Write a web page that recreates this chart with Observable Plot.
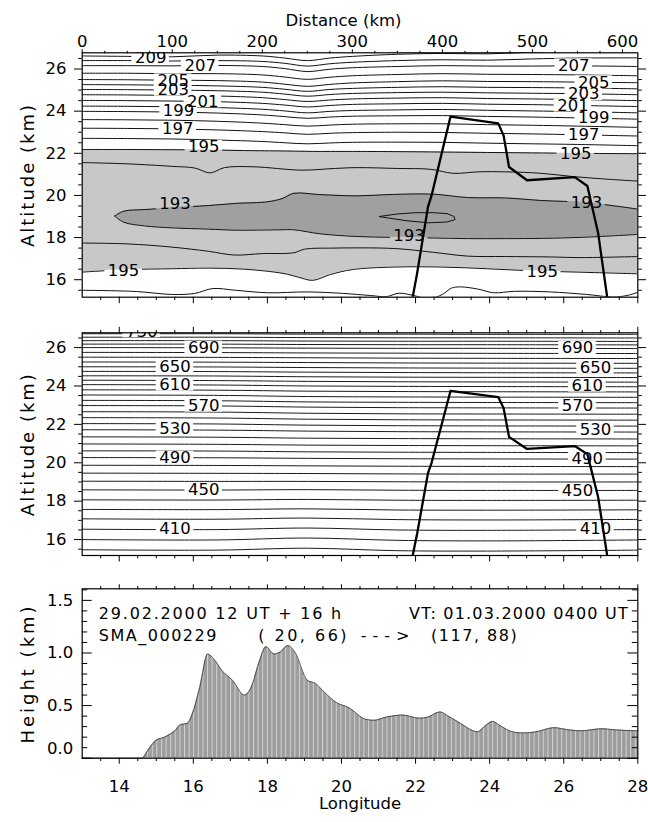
<!DOCTYPE html>
<html><head><meta charset="utf-8">
<script src="https://cdn.jsdelivr.net/npm/d3@7"></script>
<script src="https://cdn.jsdelivr.net/npm/@observablehq/plot@0.6"></script>
<style>
body{margin:0;background:#fff}
#c{width:648px;height:822px;position:relative;background:#fff}
#c svg{display:block;overflow:visible}
</style>
</head><body><div id="c"></div>
<script>
// ---------------- DATA ----------------
// top panel: temperature contours (K) vs distance (km) / altitude (km)
const upperD = [0,50,100,150,200,225,250,275,300,350,400,450,500,550,617];
const upperLevels = [209,208,207,206,205,204,203,202,201,200,199,198,197,196];
const upperAlt = [
  [26.62,26.60,26.58,26.66,26.62,26.52,26.40,26.52,26.60,26.70,26.74,26.72,26.80,26.85,26.90],
  [26.40,26.40,26.38,26.40,26.36,26.27,26.14,26.25,26.32,26.40,26.44,26.42,26.48,26.52,26.53],
  [26.16,26.16,26.15,26.17,26.12,26.02,25.88,25.99,26.06,26.12,26.16,26.14,26.14,26.15,26.12],
  [25.80,25.80,25.78,25.78,25.72,25.62,25.51,25.61,25.68,25.74,25.78,25.75,25.74,25.72,25.68],
  [25.50,25.49,25.47,25.45,25.38,25.28,25.18,25.27,25.34,25.40,25.44,25.41,25.40,25.38,25.35],
  [25.26,25.25,25.23,25.20,25.13,25.04,24.94,25.03,25.08,25.13,25.16,25.13,25.12,25.10,25.06],
  [25.03,25.02,25.00,24.97,24.90,24.81,24.71,24.79,24.84,24.88,24.90,24.87,24.85,24.83,24.78],
  [24.78,24.77,24.75,24.72,24.64,24.55,24.46,24.53,24.58,24.62,24.64,24.60,24.58,24.55,24.50],
  [24.51,24.50,24.48,24.45,24.37,24.29,24.20,24.27,24.32,24.35,24.37,24.33,24.31,24.27,24.22],
  [24.24,24.23,24.21,24.17,24.09,24.01,23.92,23.99,24.03,24.06,24.08,24.04,24.01,23.98,23.92],
  [23.99,23.98,23.96,23.91,23.82,23.74,23.66,23.72,23.76,23.78,23.79,23.75,23.72,23.68,23.62],
  [23.60,23.59,23.57,23.52,23.43,23.36,23.29,23.34,23.38,23.40,23.40,23.36,23.33,23.29,23.23],
  [23.19,23.18,23.16,23.11,23.03,22.97,22.90,22.95,22.98,23.00,22.99,22.95,22.92,22.88,22.82],
  [22.71,22.70,22.68,22.63,22.56,22.50,22.45,22.49,22.52,22.53,22.52,22.48,22.45,22.42,22.36]
];
const grayD = [0,50,100,140,180,223,240,256,276,300,346,400,450,500,550,617];
const t195Upper = [22.18,22.18,22.17,22.16,22.13,22.11,22.10,22.09,22.09,22.09,22.08,22.06,22.04,22.02,22.00,21.98];
const t195Lower = [16.36,16.48,16.52,16.55,16.50,16.30,16.12,15.97,16.25,16.48,16.60,16.60,16.52,16.42,16.36,16.28];
const darkD = [36,46,70,100,140,170,206,222,235,264,305,346,390,428,470,510,560,617];
const t193Upper = [19.02,19.25,19.33,19.42,19.52,19.62,19.70,19.85,20.10,20.04,19.98,20.05,20.06,19.90,19.88,19.76,19.66,19.35];
const t193Lower = [19.02,18.73,18.55,18.46,18.40,18.35,18.36,18.37,18.37,18.18,18.05,18.01,17.98,17.95,17.95,17.96,18.02,18.15];
const t194UpperD = [0,50,100,125,142,158,190,244,280,305,350,387,412,440,470,510,544,580,617];
const t194UpperAlt = [21.56,21.50,21.38,21.30,21.07,21.32,21.36,21.20,21.28,21.32,21.28,21.24,21.05,21.12,21.12,21.05,20.90,20.78,20.68];
const t194LowerD = [0,50,99,140,169,200,235,247,278,347,390,428,470,520,554,617];
const t194LowerAlt = [17.74,17.70,17.55,17.35,17.17,17.24,17.28,17.45,17.50,17.48,17.30,17.12,17.10,17.08,17.05,17.10];
const t196LowerD = [0,60,100,125,145,170,206,250,290,320,338,352,368,385,400,410,420,440,457,480,520,560,590,605,617];
const t196LowerAlt = [15.50,15.44,15.30,15.35,15.58,15.50,15.38,15.42,15.35,15.25,15.20,15.36,15.25,15.10,15.30,15.60,15.66,15.55,15.38,15.45,15.42,15.30,15.18,15.25,15.40];
const t192LoopD = [330,350,370,390,405,413,414,405,385,360];
const t192LoopAlt = [19.00,19.12,19.18,19.18,19.14,19.00,18.85,18.74,18.70,18.80];

const topLabelLevel = [209,207,205,203,201,199,197,195,193,193,193,195,195,207,205,203,201,199,197,195];
const topLabelD = [76,131,101,101,134,107,106,135,103,363,560,46,511,546,568,557,545,568,557,548];
const topLabelAlt = [26.56,26.17,25.46,25.02,24.47,24.0,23.17,22.3,19.62,18.08,19.66,16.44,16.39,26.17,25.37,24.82,24.27,23.68,22.89,21.98];

// cross-section outline (thick line), distance km / altitude km
const pathD = [367,372,384,388,409,462,468,474,494,547,561,573,583];
const pathAlt = [15.17,16.32,19.46,20.0,23.74,23.42,22.84,21.35,20.72,20.87,20.45,18.2,15.17];

// middle panel: potential temperature (K)
const midD = [0,150,250,350,450,617];
const midLevels = [390,400,410,420,430,440,450,460,470,480,490,500,510,520,530,540,550,560,570,580,590,600,610,620,630,640,650,660,670,680,690,700,710,720,730];
const midAlt = [
  [15.47,15.45,15.55,15.42,15.40,15.45],
  [16.00,15.98,16.08,15.96,15.93,15.98],
  [16.54,16.52,16.60,16.50,16.48,16.52],
  [17.08,17.06,17.12,17.04,17.02,17.05],
  [17.57,17.56,17.60,17.54,17.53,17.55],
  [18.07,18.06,18.09,18.05,18.04,18.05],
  [18.59,18.58,18.60,18.57,18.56,18.56],
  [19.04,19.03,19.03,19.01,19.00,19.00],
  [19.46,19.45,19.44,19.42,19.41,19.41],
  [19.87,19.86,19.84,19.82,19.81,19.80],
  [20.27,20.26,20.23,20.21,20.20,20.19],
  [20.62,20.61,20.57,20.55,20.54,20.53],
  [20.98,20.96,20.92,20.90,20.89,20.88],
  [21.35,21.33,21.28,21.26,21.25,21.24],
  [21.72,21.70,21.65,21.62,21.61,21.60],
  [22.04,22.02,21.96,21.93,21.92,21.91],
  [22.35,22.33,22.27,22.24,22.23,22.22],
  [22.66,22.64,22.58,22.55,22.54,22.53],
  [22.98,22.96,22.90,22.87,22.86,22.85],
  [23.25,23.23,23.17,23.15,23.14,23.13],
  [23.53,23.51,23.45,23.43,23.42,23.41],
  [23.80,23.78,23.73,23.71,23.70,23.69],
  [24.07,24.05,24.00,23.98,23.97,23.96],
  [24.30,24.28,24.24,24.22,24.21,24.20],
  [24.53,24.52,24.48,24.46,24.45,24.44],
  [24.76,24.75,24.72,24.70,24.69,24.68],
  [25.00,24.99,24.96,24.94,24.93,24.92],
  [25.25,25.24,25.22,25.20,25.19,25.18],
  [25.50,25.49,25.47,25.45,25.44,25.43],
  [25.75,25.74,25.72,25.71,25.70,25.69],
  [26.00,25.99,25.97,25.96,25.96,25.95],
  [26.18,26.18,26.16,26.15,26.15,26.14],
  [26.36,26.36,26.34,26.33,26.33,26.32],
  [26.54,26.54,26.52,26.51,26.51,26.50],
  [26.72,26.72,26.70,26.70,26.69,26.69]
];
const midLabelLevel = [730,690,650,610,570,530,490,450,410,690,650,610,570,530,490,450,410];
const midLabelD = [66,135,103,103,135,103,103,135,103,550,570,561,550,570,561,550,570];
const midLabelAlt = [26.85,26.0,25.0,24.07,22.98,21.78,20.27,18.62,16.57,25.98,24.95,24.02,22.95,21.7,20.2,18.55,16.55];

// bottom panel: topography height (km) vs longitude
const topoLon = [13,14.6,14.82,14.99,15.22,15.5,15.66,15.83,16.0,16.17,16.39,16.56,16.78,17.06,17.38,17.57,17.79,17.96,18.18,18.35,18.55,18.74,19.08,19.3,19.53,19.86,20.2,20.65,20.87,21.2,21.65,22.1,22.32,22.66,22.88,23.22,23.56,23.67,23.89,24.08,24.28,24.62,24.9,25.24,25.74,26.13,26.47,27.03,27.36,28];
const topoH = [0,0,0.10,0.17,0.20,0.26,0.32,0.33,0.45,0.67,0.99,0.94,0.83,0.74,0.60,0.68,0.93,1.06,0.99,1.01,1.07,1.01,0.74,0.71,0.63,0.53,0.48,0.37,0.36,0.39,0.41,0.38,0.39,0.44,0.40,0.33,0.26,0.25,0.31,0.35,0.31,0.25,0.24,0.25,0.29,0.27,0.26,0.28,0.27,0.26];

// ticks and texts
const distTicks = [0,100,200,300,400,500,600];
const distMinor = [25,50,75,125,150,175,225,250,275,325,350,375,425,450,475,525,550,575];
const altMajor = [16,18,20,22,24,26];
const altMinor = [15.5,16.5,17,17.5,18.5,19,19.5,20.5,21,21.5,22.5,23,23.5,24.5,25,25.5,26.5];
const lonMajor = [14,16,18,20,22,24,26,28];
const lonMinor = [13.5,14.5,15,15.5,16.5,17,17.5,18.5,19,19.5,20.5,21,21.5,22.5,23,23.5,24.5,25,25.5,26.5,27,27.5];
const hMajor = [0,0.5,1.0,1.5];
const hMinor = [0.1,0.2,0.3,0.4,0.6,0.7,0.8,0.9,1.1,1.2,1.3,1.4,1.6];
const annLeftText = ["29.02.2000 12 UT + 16 h","SMA_000229","( 20, 66)","--->","(117, 88)"];
const annLeftLon = [13.45,13.45,17.75,20.52,22.42];
const annLeftH = [1.373,1.167,1.167,1.167,1.167];
const annRightText = ["VT: 01.03.2000 0400 UT"];
const annRightLon = [27.76];
const annRightH = [1.373];

// ---------------- BUILD ----------------
const FONT = "DejaVu Sans";
const FS = 16.5;
const ML = 81.7, MR = 10.7;
const FW = 648 - ML - MR;
const D_MAX = 617, LON0 = 13, LON1 = 28;
const lonToD = lon => (lon - LON0) * D_MAX / (LON1 - LON0);
const Y_DOM = [15.17, 26.77];

const topRows = [];
upperLevels.forEach((lv, i) => upperD.forEach((d, j) => topRows.push({id: "u" + lv, d, alt: upperAlt[i][j]})));
function addLine(id, ds, alts) { ds.forEach((d, j) => topRows.push({id, d, alt: alts[j]})); }
addLine("195u", grayD, t195Upper);
addLine("195l", grayD, t195Lower);
addLine("193u", darkD, t193Upper);
addLine("193l", darkD, t193Lower);
addLine("194u", t194UpperD, t194UpperAlt);
addLine("194l", t194LowerD, t194LowerAlt);
addLine("196l", t196LowerD, t196LowerAlt);
const grayRows = grayD.map((d, j) => ({d, lo: t195Lower[j], hi: t195Upper[j]}));
const darkRows = darkD.map((d, j) => ({d, lo: t193Lower[j], hi: t193Upper[j]}));
const loopRows = t192LoopD.map((d, j) => ({d, alt: t192LoopAlt[j]}));
const pathRows = pathD.map((d, j) => ({d, alt: pathAlt[j]}));
const topLabels = topLabelLevel.map((lv, j) => ({lv, d: topLabelD[j], alt: topLabelAlt[j]}));
const midRows = [];
midLevels.forEach((lv, i) => midD.forEach((d, j) => midRows.push({id: lv, d, alt: midAlt[i][j]})));
const midLabels = midLabelLevel.map((lv, j) => ({lv, d: midLabelD[j], alt: midLabelAlt[j]}));
const topo = topoLon.map((lon, j) => ({lon, h: topoH[j]}));
const annL = annLeftText.map((t, j) => ({t, lon: annLeftLon[j], h: annLeftH[j]}));
const annR = annRightText.map((t, j) => ({t, lon: annRightLon[j], h: annRightH[j]}));

const style = {fontFamily: FONT, fontSize: FS + "px", background: "white", color: "black"};

function sideTicksY(ticksMaj, ticksMin) {
  return [
    Plot.axisY(ticksMaj, {anchor: "left", tickSize: 7.7, tickPadding: 8, label: null, fontSize: FS, tickFormat: d => String(d)}),
    Plot.axisY(ticksMin, {anchor: "left", tickSize: 3.5, fill: "none", label: null}),
    Plot.axisY(ticksMaj, {anchor: "right", tickSize: 7.7, fill: "none", label: null}),
    Plot.axisY(ticksMin, {anchor: "right", tickSize: 3.5, fill: "none", label: null})
  ];
}
function lonTicksOnDist(anchor) {
  return [
    Plot.axisX(lonMajor.map(lonToD), {anchor, tickSize: 6.5, fill: "none", label: null}),
    Plot.axisX(lonMinor.map(lonToD), {anchor, tickSize: 3.3, fill: "none", label: null})
  ];
}
const contourLabels = rows => Plot.text(rows, {x: "d", y: "alt", text: d => String(d.lv), fill: "black", fontSize: FS, clip: true, ariaDescription: "clabels"});
const yTitle = (t, fs) => Plot.text([t], {frameAnchor: "left", dx: -53.7, rotate: -90, textAnchor: "middle", text: d => d, fontSize: fs});

// ---- top panel ----
const topPlot = Plot.plot({
  width: 648, height: 314,
  marginTop: 52.3, marginBottom: 17.3, marginLeft: ML, marginRight: MR,
  x: {domain: [0, D_MAX]}, y: {domain: Y_DOM},
  style,
  marks: [
    Plot.frame({fill: "white", stroke: null}),
    Plot.areaY(grayRows, {x: "d", y1: "lo", y2: "hi", curve: "catmull-rom", fill: "#c8c8c8", clip: true}),
    Plot.areaY(darkRows, {x: "d", y1: "lo", y2: "hi", curve: "catmull-rom", fill: "#a0a0a0", clip: true}),
    Plot.line(topRows, {x: "d", y: "alt", z: "id", curve: "catmull-rom", stroke: "#111", strokeWidth: 1, clip: true, ariaDescription: "contours"}),
    Plot.line(loopRows, {x: "d", y: "alt", curve: "linear-closed", stroke: "#111", strokeWidth: 1, clip: true}),
    contourLabels(topLabels),
    Plot.line(pathRows, {x: "d", y: "alt", stroke: "black", strokeWidth: 2.3, clip: true}),
    Plot.frame({stroke: "black", strokeWidth: 1.2}),
    Plot.axisX(distTicks, {anchor: "top", tickSize: 4, tickPadding: 2, label: null, fontSize: FS, tickFormat: d => String(d)}),
    Plot.axisX(distMinor, {anchor: "top", tickSize: 2.5, fill: "none", label: null}),
    ...lonTicksOnDist("bottom"),
    ...sideTicksY(altMajor, altMinor),
    Plot.text(["Distance (km)"], {frameAnchor: "top", dx: -16.5, dy: -38.5, text: d => d, fontSize: FS}),
    yTitle("Altitude (km)", 18)
  ]
});

// ---- middle panel ----
const midPlot = Plot.plot({
  width: 648, height: 256,
  marginTop: 18.3, marginBottom: 15, marginLeft: ML, marginRight: MR,
  x: {domain: [0, D_MAX]}, y: {domain: Y_DOM},
  style,
  marks: [
    Plot.frame({fill: "white", stroke: null}),
    Plot.line(midRows, {x: "d", y: "alt", z: "id", curve: "catmull-rom", stroke: "#1a1a1a", strokeWidth: 1, clip: true, ariaDescription: "contours"}),
    contourLabels(midLabels),
    Plot.line(pathRows, {x: "d", y: "alt", stroke: "black", strokeWidth: 2.3, clip: true}),
    Plot.frame({stroke: "black", strokeWidth: 1.2}),
    ...lonTicksOnDist("top"),
    ...lonTicksOnDist("bottom"),
    ...sideTicksY(altMajor, altMinor),
    yTitle("Altitude (km)", 18)
  ]
});

// ---- bottom panel ----
const stripeDefs = () => {
  const defs = d3.create("svg:defs");
  const p = defs.append("pattern").attr("id", "topostripes").attr("patternUnits", "userSpaceOnUse")
    .attr("width", 4.6).attr("height", 20);
  p.append("rect").attr("width", 4.6).attr("height", 20).attr("fill", "#9d9d9d");
  p.append("rect").attr("width", 1).attr("height", 20).attr("fill", "#d2d2d2");
  return defs.node();
};
const botPlot = Plot.plot({
  width: 648, height: 252,
  marginTop: 18.3, marginBottom: 64.3, marginLeft: ML, marginRight: MR,
  x: {domain: [LON0, LON1]}, y: {domain: [0, 1.61]},
  style,
  marks: [
    stripeDefs,
    Plot.areaY(topo, {x: "lon", y: "h", curve: "monotone-x", fill: "url(#topostripes)"}),
    Plot.lineY(topo, {x: "lon", y: "h", curve: "monotone-x", stroke: "#444", strokeWidth: 0.9}),
    Plot.frame({stroke: "black", strokeWidth: 1.2}),
    Plot.axisX(lonMajor, {anchor: "bottom", tickSize: 6, tickPadding: 16, label: null, fontSize: FS, tickFormat: d => String(d)}),
    Plot.axisX(lonMinor, {anchor: "bottom", tickSize: 3.3, fill: "none", label: null}),
    Plot.axisX(lonMajor, {anchor: "top", tickSize: 5, fill: "none", label: null}),
    Plot.axisX(lonMinor, {anchor: "top", tickSize: 3.3, fill: "none", label: null}),
    Plot.axisY(hMajor.slice(1), {anchor: "left", tickSize: 0, tickPadding: 9, label: null, fontSize: FS, tickFormat: d3.format(".1f")}),
    Plot.text(hMajor.slice(0, 1), {y: d => d, frameAnchor: "left", dx: -9, dy: -9, textAnchor: "end", text: d3.format(".1f"), fontSize: FS}),
    Plot.tickY(hMajor, {y: d => d, insetRight: FW - 10, stroke: "black"}),
    Plot.tickY(hMinor, {y: d => d, insetRight: FW - 5.5, stroke: "black"}),
    Plot.tickY(hMajor, {y: d => d, insetLeft: FW - 10, stroke: "black"}),
    Plot.tickY(hMinor, {y: d => d, insetLeft: FW - 5.5, stroke: "black"}),
    Plot.text(annL, {x: "lon", y: "h", text: "t", textAnchor: "start", fontSize: 16}),
    Plot.text(annR, {x: "lon", y: "h", text: "t", textAnchor: "end", fontSize: 16}),
    yTitle("Height (km)", 18),
    Plot.text(["Longitude"], {frameAnchor: "bottom", dy: 51, text: d => d, fontSize: FS})
  ]
});

const c = document.getElementById("c");
c.appendChild(topPlot);
c.appendChild(midPlot);
c.appendChild(botPlot);

// letter spacing of the wide plotter font (not exposed by Plot marks)
const spacing = {"Altitude (km)": "2px", "Height (km)": "3px", "29.02.2000 12 UT + 16 h": "1.8px",
  "VT: 01.03.2000 0400 UT": "1.2px", "SMA_000229": "1.5px", "( 20, 66)": "2.5px", "--->": "6px", "(117, 88)": "1.5px"};
[topPlot, midPlot, botPlot].forEach(svg => d3.select(svg).selectAll("text").each(function () {
  const s = spacing[this.textContent];
  if (s) this.style.letterSpacing = s;
}));

// break contour lines where their labels are written (as the contouring routine does)
function breakLinesAtLabels(svg, rows, id) {
  const sx = svg.scale("x"), sy = svg.scale("y");
  const s = d3.select(svg);
  const texts = s.selectAll('g[aria-description="clabels"] text').nodes();
  const mask = s.append("defs").append("mask").attr("id", id).attr("maskUnits", "userSpaceOnUse")
    .attr("x", -20).attr("y", -20).attr("width", 700).attr("height", 400);
  mask.append("rect").attr("x", -20).attr("y", -20).attr("width", 700).attr("height", 400).attr("fill", "white");
  rows.forEach((r, i) => {
    const w = texts[i] ? texts[i].getComputedTextLength() : 31;
    const cx = sx.apply(r.d), cy = sy.apply(r.alt);
    mask.append("rect").attr("x", cx - w / 2 - 3).attr("y", cy - 6.5).attr("width", w + 6).attr("height", 13).attr("fill", "black");
  });
  s.selectAll('g[aria-description="contours"]').attr("mask", `url(#${id})`);
}
breakLinesAtLabels(topPlot, topLabels, "maskTop");
breakLinesAtLabels(midPlot, midLabels, "maskMid");
</script>
</body></html>
